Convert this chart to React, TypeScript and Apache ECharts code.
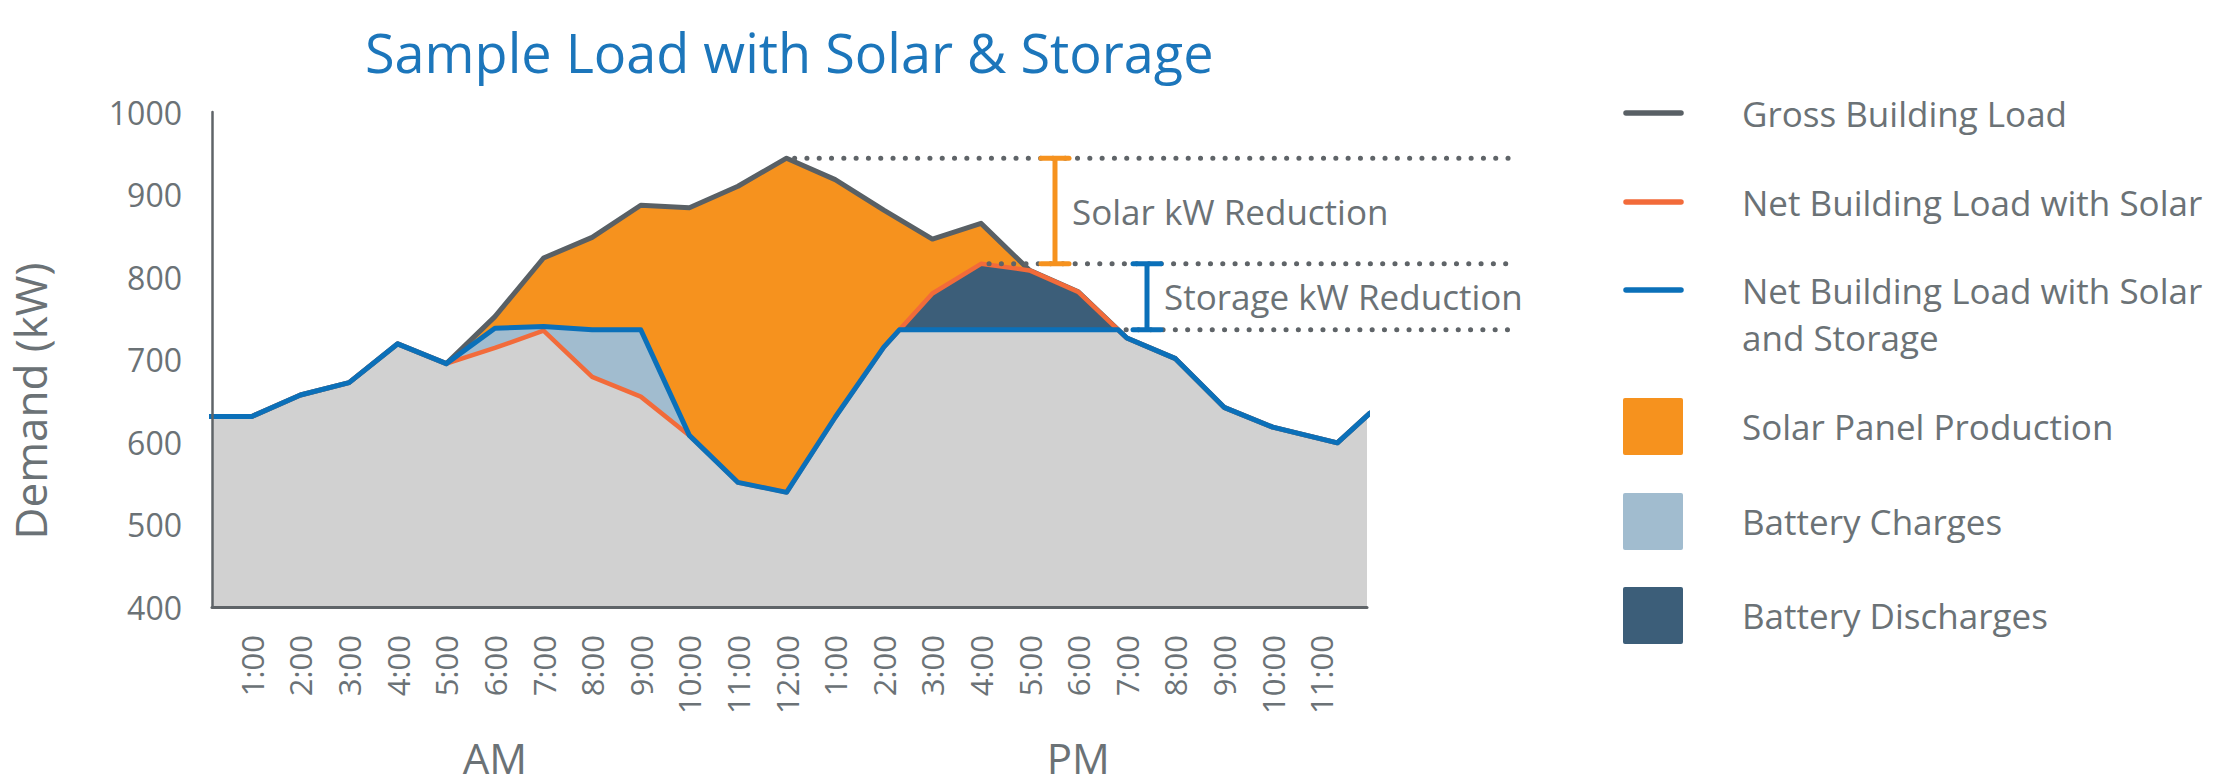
import React, { useEffect, useRef } from "react";
import * as echarts from "echarts";

// ---------- data (hour of day, kW) ----------
const hourTicks = [1, 2, 3, 4, 5, 6, 7, 8, 9, 10, 11, 12, 13, 14, 15, 16, 17, 18, 19, 20, 21, 22, 23];
const periodLabels: [string, number][] = [["AM", 6], ["PM", 18]];

const grossLoad: [number, number][] = [
  [0, 631], [1, 631], [2, 657], [3, 672], [4, 719], [5, 695], [6, 752], [7, 823], [8, 848],
  [9, 887], [10, 884], [11, 910], [12, 944], [13, 918], [14, 881], [15, 846], [16, 865],
  [17, 808], [18, 782], [19, 726], [20, 701], [21, 642], [22, 618], [23.33, 599], [24, 635],
];
const netSolar: [number, number][] = [
  [0, 631], [1, 631], [2, 657], [3, 672], [4, 719], [5, 695], [6, 714], [7, 735], [8, 679],
  [9, 655], [10, 608], [11, 551], [12, 539], [13, 630], [14, 715], [15, 780], [16, 816],
  [17, 808], [18, 782], [19, 726], [20, 701], [21, 642], [22, 618], [23.33, 599], [24, 635],
];
const netSolarStorage: [number, number][] = [
  [0, 631], [1, 631], [2, 657], [3, 672], [4, 719], [5, 695], [6, 738], [7, 740], [8, 736],
  [9, 736], [10, 608], [11, 551], [12, 539], [13, 630], [14, 715], [14.32, 736], [15, 736],
  [16, 736], [17, 736], [18, 736], [18.82, 736], [19, 726], [20, 701], [21, 642], [22, 618],
  [23.33, 599], [24, 635],
];
const storageCapKW = 736;

const legendLines: [string, string][] = [
  ["Gross Building Load", "#596065"],
  ["Net Building Load with Solar", "#f26b3a"],
  ["Net Building Load with Solar\nand Storage", "#0b70b9"],
];
const legendBoxes: [string, string][] = [
  ["Solar Panel Production", "#f6921e"],
  ["Battery Charges", "#a1bccf"],
  ["Battery Discharges", "#3c5e79"],
];

// ---------- styles ----------
const FONT = "'Open Sans', 'Noto Sans', sans-serif";
const TEXT_GRAY = "#6b7276";
const AXIS_GRAY = "#5f6468";
const GRAY_FILL = "#d1d1d1";
const ORANGE_FILL = "#f6921e";
const LIGHT_BLUE = "#a1bccf";
const DARK_BLUE = "#3c5e79";
const GROSS_COLOR = "#596065";
const SOLAR_COLOR = "#f26b3a";
const STORAGE_COLOR = "#0b70b9";
const TITLE_BLUE = "#1c76bb";

const hourLabel = (v: number) => `${((Math.round(v) - 1) % 12) + 1}:00`;

export default function App() {
  const ref = useRef<HTMLDivElement>(null);

  useEffect(() => {
    if (!ref.current) return;
    const chart = echarts.init(ref.current, undefined, { renderer: "svg" });

    const solarMap = new Map(netSolar.map(([x, y]) => [x, y]));
    const baseTop = netSolarStorage.map(([x, y]) => [
      x,
      solarMap.has(x) ? Math.min(y, solarMap.get(x) as number) : y,
    ]);

    const area = (name: string, data: number[][], color: string) => ({
      name,
      type: "line",
      data,
      symbol: "none",
      showSymbol: false,
      silent: true,
      lineStyle: { width: 0, opacity: 0 },
      areaStyle: { color, opacity: 1, origin: "start" },
      z: 1,
    });
    const line = (name: string, data: number[][], color: string, width: number) => ({
      name,
      type: "line",
      data,
      symbol: "none",
      showSymbol: false,
      silent: true,
      lineStyle: { color, width, join: "round", cap: "round" },
      z: 3,
    });

    chart.setOption({
      animation: false,
      backgroundColor: "#ffffff",
      grid: { left: 212, top: 112, width: 1155, height: 495, containLabel: false },
      xAxis: {
        type: "value",
        min: 0.18,
        max: 23.94,
        z: 10,
        axisLine: { show: true, lineStyle: { color: AXIS_GRAY, width: 3 } },
        axisTick: { show: false },
        splitLine: { show: false },
        axisLabel: {
          customValues: hourTicks,
          formatter: (v: number) => hourLabel(v),
          rotate: 90,
          margin: 28,
          color: TEXT_GRAY,
          fontSize: 31,
          fontFamily: FONT,
        },
      },
      yAxis: {
        type: "value",
        min: 400,
        max: 1000,
        interval: 100,
        z: 10,
        axisLine: { show: true, lineStyle: { color: AXIS_GRAY, width: 2.5 } },
        axisTick: { show: false },
        splitLine: { show: false },
        axisLabel: {
          margin: 30,
          color: TEXT_GRAY,
          fontSize: 32,
          fontFamily: FONT,
          formatter: (v: number) => String(v),
        },
      },
      series: [
        area("Solar Panel Production", grossLoad, ORANGE_FILL),
        area("Battery Discharges", netSolar, DARK_BLUE),
        area("Battery Charges", netSolarStorage, LIGHT_BLUE),
        area("Base Load", baseTop, GRAY_FILL),
        line("Gross Building Load", grossLoad, GROSS_COLOR, 5),
        line("Net Building Load with Solar", netSolar, SOLAR_COLOR, 4.5),
        line("Net Building Load with Solar and Storage", netSolarStorage, STORAGE_COLOR, 5),
      ],
    });

    const px = (x: number, y: number) => chart.convertToPixel({ gridIndex: 0 }, [x, y]) as number[];

    const grossPeak = grossLoad.reduce((a, b) => (b[1] > a[1] ? b : a));
    const solarPeak = netSolar.reduce((a, b) => (b[1] > a[1] ? b : a));
    const capEnd = netSolarStorage.filter((p) => p[1] === storageCapKW).slice(-1)[0];

    const gP = px(grossPeak[0], grossPeak[1]);
    const sP = px(solarPeak[0], solarPeak[1]);
    const cP = px(capEnd[0], capEnd[1]);
    const RIGHT = 1513;

    const dotStyle = { stroke: AXIS_GRAY, lineWidth: 5, lineDash: [0.1, 12.2], lineCap: "round" };
    const dotted = (x1: number, y: number) => ({
      type: "line",
      shape: { x1: x1 + 8, y1: y, x2: RIGHT, y2: y },
      style: dotStyle,
      z: 20,
    });
    const ibeam = (x: number, y1: number, y2: number, color: string) => [
      { type: "line", shape: { x1: x, y1, x2: x, y2 }, style: { stroke: color, lineWidth: 5 }, z: 21 },
      { type: "line", shape: { x1: x - 14, y1, x2: x + 14, y2: y1 }, style: { stroke: color, lineWidth: 5, lineCap: "round" }, z: 21 },
      { type: "line", shape: { x1: x - 14, y1: y2, x2: x + 14, y2 }, style: { stroke: color, lineWidth: 5, lineCap: "round" }, z: 21 },
    ];
    const txt = (text: string, x: number, y: number, size: number, extra: any = {}) => ({
      type: "text",
      x,
      y,
      z: 30,
      style: {
        text,
        fontSize: size,
        fontFamily: FONT,
        fill: TEXT_GRAY,
        align: "left",
        verticalAlign: "middle",
        ...extra,
      },
    });

    const graphics: any[] = [
      txt("Sample Load with Solar & Storage", 365, 52, 54, { fill: TITLE_BLUE }),
      { ...txt("Demand (kW)", 30, 401, 44, { align: "center" }), rotation: Math.PI / 2 },
      ...periodLabels.map(([name, h]) => txt(name, px(h, 400)[0], 757, 42, { align: "center" })),
      dotted(gP[0], gP[1]),
      dotted(sP[0], sP[1]),
      dotted(cP[0], cP[1]),
      ...ibeam(1055, gP[1], sP[1], ORANGE_FILL),
      ...ibeam(1147, sP[1], cP[1], STORAGE_COLOR),
      txt("Solar kW Reduction", 1072, (gP[1] + sP[1]) / 2, 35),
      txt("Storage kW Reduction", 1164, (sP[1] + cP[1]) / 2, 35),
    ];

    const legendLineY = [113, 202, 290];
    legendLines.forEach(([name, color], i) => {
      graphics.push({
        type: "line",
        shape: { x1: 1626, y1: legendLineY[i], x2: 1681, y2: legendLineY[i] },
        style: { stroke: color, lineWidth: 5.5, lineCap: "round" },
        z: 30,
      });
      if (name.includes("\n")) {
        graphics.push(txt(name, 1742, legendLineY[i] - 23.5, 35, { verticalAlign: "top", lineHeight: 47 }));
      } else {
        graphics.push(txt(name, 1742, legendLineY[i], 35));
      }
    });
    const legendBoxTop = [398, 493, 587];
    legendBoxes.forEach(([name, color], i) => {
      graphics.push({
        type: "rect",
        shape: { x: 1623, y: legendBoxTop[i], width: 60, height: 57, r: 2 },
        style: { fill: color },
        z: 30,
      });
      graphics.push(txt(name, 1742, legendBoxTop[i] + 28.5, 35));
    });

    chart.setOption({ graphic: graphics });

    return () => chart.dispose();
  }, []);

  return (
    <div
      ref={ref}
      style={{ position: "absolute", left: 0, top: 0, width: 2217, height: 784, background: "#fff" }}
    />
  );
}
